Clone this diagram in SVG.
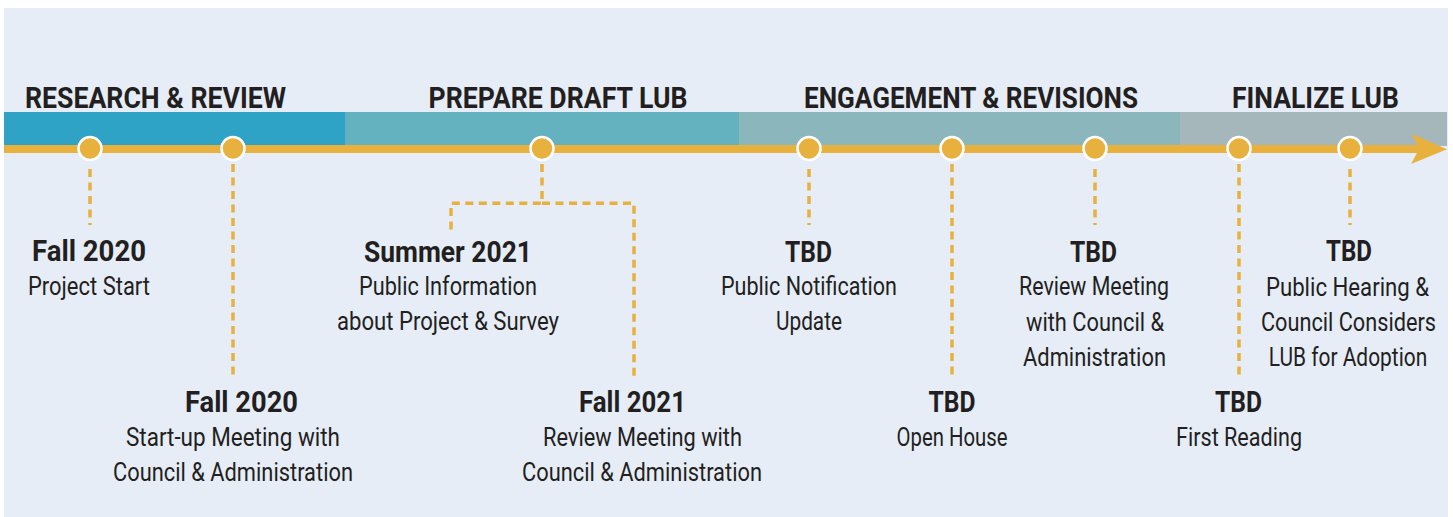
<svg xmlns="http://www.w3.org/2000/svg" width="1453" height="517" viewBox="0 0 1453 517">
<style>
text{font-family:Roboto,"Liberation Sans",sans-serif;fill:#231f20;text-anchor:middle}
.h{font-size:29px;font-weight:700}
.b{font-size:30px;font-weight:700}
.r{font-size:25.5px;font-weight:400}
.dash{fill:none;stroke:#e8b13e;stroke-width:3.5;stroke-dasharray:8 5.5}
.dot{fill:#e8b13e;stroke:#ffffff;stroke-width:2.5}
</style>
<rect x="0" y="0" width="1453" height="517" fill="#ffffff"/>
<rect x="4" y="8" width="1444" height="509" fill="#e6edf7"/>
<g id="phases">
<rect x="4" y="112" width="341" height="34" fill="#2ea3c6"/>
<rect x="345" y="112" width="394" height="34" fill="#64b2c0"/>
<rect x="739" y="112" width="441" height="34" fill="#8bb7bc"/>
<rect x="1180" y="112" width="267" height="34" fill="#a5b7ba"/>
<text class="h" x="155.5" y="108" textLength="261" lengthAdjust="spacingAndGlyphs">RESEARCH &amp; REVIEW</text>
<text class="h" x="558" y="108" textLength="259" lengthAdjust="spacingAndGlyphs">PREPARE DRAFT LUB</text>
<text class="h" x="971" y="108" textLength="334" lengthAdjust="spacingAndGlyphs">ENGAGEMENT &amp; REVISIONS</text>
<text class="h" x="1315.5" y="108" textLength="167" lengthAdjust="spacingAndGlyphs">FINALIZE LUB</text>
</g>
<g id="timeline">
<rect x="4" y="145" width="1416" height="8" fill="#e8b13e"/>
<polygon points="1412,134 1447,149.3 1411,164 1419,149.3" fill="#e8b13e"/>
</g>
<g id="connectors">
<line class="dash" x1="90" y1="169" x2="90" y2="225"/>
<line class="dash" x1="233" y1="164" x2="233" y2="380"/>
<polyline class="dash" points="542,164 542,203.3 451,203.3 451,232"/>
<polyline class="dash" points="542,203.3 634,203.3 634,381"/>
<line class="dash" x1="809" y1="169" x2="809" y2="225"/>
<line class="dash" x1="952" y1="164" x2="952" y2="378"/>
<line class="dash" x1="1095" y1="169" x2="1095" y2="225"/>
<line class="dash" x1="1239" y1="164" x2="1239" y2="380"/>
<line class="dash" x1="1350" y1="169" x2="1350" y2="225"/>
</g>
<g id="dots">
<circle class="dot" cx="90" cy="148.5" r="11.5"/>
<circle class="dot" cx="233" cy="148.5" r="11.5"/>
<circle class="dot" cx="542" cy="148.5" r="11.5"/>
<circle class="dot" cx="809" cy="148.5" r="11.5"/>
<circle class="dot" cx="952" cy="148.5" r="11.5"/>
<circle class="dot" cx="1095" cy="148.5" r="11.5"/>
<circle class="dot" cx="1239" cy="148.5" r="11.5"/>
<circle class="dot" cx="1350" cy="148.5" r="11.5"/>
</g>
<g id="e1">
<text class="b" x="89" y="261" textLength="114" lengthAdjust="spacingAndGlyphs">Fall 2020</text>
<text class="r" x="89" y="295" textLength="122" lengthAdjust="spacingAndGlyphs">Project Start</text>
</g>
<g id="e2">
<text class="b" x="241.5" y="412" textLength="113" lengthAdjust="spacingAndGlyphs">Fall 2020</text>
<text class="r" x="233" y="446" textLength="214" lengthAdjust="spacingAndGlyphs">Start-up Meeting with</text>
<text class="r" x="233" y="481" textLength="240" lengthAdjust="spacingAndGlyphs">Council &amp; Administration</text>
</g>
<g id="e3">
<text class="b" x="448" y="262" textLength="168" lengthAdjust="spacingAndGlyphs">Summer 2021</text>
<text class="r" x="448" y="295" textLength="178" lengthAdjust="spacingAndGlyphs">Public Information</text>
<text class="r" x="448" y="330" textLength="222" lengthAdjust="spacingAndGlyphs">about Project &amp; Survey</text>
</g>
<g id="e4">
<text class="b" x="632.5" y="412" textLength="107" lengthAdjust="spacingAndGlyphs">Fall 2021</text>
<text class="r" x="642.5" y="446" textLength="199" lengthAdjust="spacingAndGlyphs">Review Meeting with</text>
<text class="r" x="642" y="481" textLength="240" lengthAdjust="spacingAndGlyphs">Council &amp; Administration</text>
</g>
<g id="e5">
<text class="b" x="808.5" y="262" textLength="47" lengthAdjust="spacingAndGlyphs">TBD</text>
<text class="r" x="809" y="295" textLength="176" lengthAdjust="spacingAndGlyphs">Public Notification</text>
<text class="r" x="809" y="330" textLength="66" lengthAdjust="spacingAndGlyphs">Update</text>
</g>
<g id="e6">
<text class="b" x="952" y="412" textLength="47" lengthAdjust="spacingAndGlyphs">TBD</text>
<text class="r" x="952" y="446" textLength="111" lengthAdjust="spacingAndGlyphs">Open House</text>
</g>
<g id="e7">
<text class="b" x="1093.5" y="262" textLength="47" lengthAdjust="spacingAndGlyphs">TBD</text>
<text class="r" x="1094" y="295" textLength="150" lengthAdjust="spacingAndGlyphs">Review Meeting</text>
<text class="r" x="1095" y="331" textLength="138" lengthAdjust="spacingAndGlyphs">with Council &amp;</text>
<text class="r" x="1094.5" y="366" textLength="143" lengthAdjust="spacingAndGlyphs">Administration</text>
</g>
<g id="e8">
<text class="b" x="1238.5" y="412" textLength="47" lengthAdjust="spacingAndGlyphs">TBD</text>
<text class="r" x="1239" y="446" textLength="126" lengthAdjust="spacingAndGlyphs">First Reading</text>
</g>
<g id="e9">
<text class="b" x="1349" y="261" textLength="46" lengthAdjust="spacingAndGlyphs">TBD</text>
<g transform="translate(1348 0) scale(0.8 1)">
<text class="r" x="-0.6" y="296" textLength="204" lengthAdjust="spacingAndGlyphs">Public Hearing &amp;</text>
<text class="r" x="0.6" y="331" textLength="219" lengthAdjust="spacingAndGlyphs">Council Considers</text>
<text class="r" x="0" y="366" textLength="198" lengthAdjust="spacingAndGlyphs">LUB for Adoption</text>
</g>
</g>
</svg>
